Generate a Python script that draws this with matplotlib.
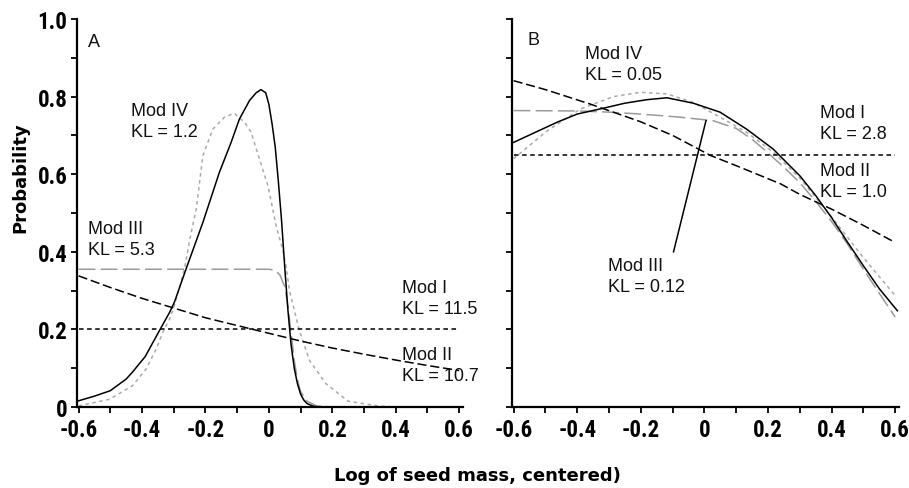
import numpy as np
import matplotlib.pyplot as plt
from matplotlib.ticker import MultipleLocator

# panel A (left)
a_obs_x = [-0.6, -0.55, -0.5, -0.45, -0.43, -0.39, -0.345, -0.313, -0.298, -0.261,
           -0.208, -0.156, -0.12, -0.093, -0.061, -0.04, -0.025, -0.01, 0.0, 0.01,
           0.02, 0.03, 0.04, 0.05, 0.06, 0.07, 0.08, 0.09, 0.10, 0.11, 0.12, 0.14, 0.16]
a_obs_y = [0.016, 0.028, 0.042, 0.072, 0.09, 0.13, 0.197, 0.244, 0.27, 0.356,
           0.476, 0.605, 0.68, 0.742, 0.79, 0.81, 0.818, 0.81, 0.78, 0.73,
           0.67, 0.58, 0.48, 0.36, 0.25, 0.16, 0.10, 0.06, 0.033, 0.018, 0.009, 0.002, 0.0]

a_mod1_x = [-0.6, 0.6]
a_mod1_y = [0.2, 0.2]

a_mod2_x = [-0.6, -0.5, -0.4, -0.3, -0.2, -0.1, 0.0, 0.1, 0.2, 0.3, 0.4, 0.5, 0.6]
a_mod2_y = [0.338, 0.308, 0.28, 0.255, 0.23, 0.21, 0.19, 0.17, 0.152, 0.136, 0.121, 0.107, 0.094]

a_mod3_x = [-0.6, 0.0, 0.02, 0.035, 0.05, 0.06, 0.07, 0.08, 0.09, 0.10, 0.12, 0.15, 0.2]
a_mod3_y = [0.355, 0.355, 0.352, 0.34, 0.31, 0.26, 0.19, 0.12, 0.07, 0.04, 0.015, 0.003, 0.0]

a_mod4_x = [-0.6, -0.502, -0.43, -0.387, -0.355, -0.334, -0.313, -0.298, -0.266, -0.25,
            -0.229, -0.208, -0.177, -0.14, -0.109, -0.077, -0.056, -0.03, -0.003, 0.023,
            0.043, 0.054, 0.065, 0.095, 0.128, 0.18, 0.25, 0.35, 0.4]
a_mod4_y = [0.003, 0.02, 0.055, 0.098, 0.15, 0.193, 0.227, 0.261, 0.356, 0.43,
            0.51, 0.648, 0.716, 0.747, 0.757, 0.734, 0.708, 0.64, 0.57, 0.467,
            0.407, 0.364, 0.30, 0.20, 0.12, 0.06, 0.015, 0.002, 0.0]

# panel B (right)
b_obs_x = [-0.6, -0.463, -0.4, -0.318, -0.25, -0.181, -0.118, -0.035, 0.049, 0.133,
           0.216, 0.3, 0.35, 0.4, 0.45, 0.5, 0.55, 0.607]
b_obs_y = [0.682, 0.734, 0.755, 0.77, 0.783, 0.792, 0.797, 0.783, 0.76, 0.716,
           0.665, 0.596, 0.545, 0.488, 0.425, 0.364, 0.305, 0.248]

b_mod1_x = [-0.6, 0.6]
b_mod1_y = [0.65, 0.65]

b_mod2_x = [-0.6, -0.5, -0.36, -0.2, -0.1, 0.02, 0.1, 0.24, 0.3, 0.4, 0.5, 0.6]
b_mod2_y = [0.841, 0.818, 0.781, 0.735, 0.70, 0.648, 0.622, 0.575, 0.548, 0.51, 0.468, 0.424]

b_mod3_x = [-0.6, -0.4, -0.3, -0.2, -0.077, 0.027, 0.1, 0.15, 0.2, 0.25, 0.3, 0.35,
            0.4, 0.45, 0.5, 0.55, 0.6]
b_mod3_y = [0.764, 0.763, 0.76, 0.755, 0.747, 0.738, 0.718, 0.69, 0.655, 0.618, 0.578, 0.53,
            0.478, 0.42, 0.355, 0.293, 0.232]

b_mod4_x = [-0.6, -0.494, -0.39, -0.286, -0.202, -0.118, -0.035, 0.049, 0.133, 0.216,
            0.3, 0.4, 0.5, 0.6]
b_mod4_y = [0.64, 0.712, 0.768, 0.80, 0.811, 0.807, 0.785, 0.747, 0.708, 0.657,
            0.59, 0.49, 0.385, 0.287]

b_pointer_x = [0.005, -0.097]
b_pointer_y = [0.738, 0.40]

xticks = [-0.6, -0.4, -0.2, 0.0, 0.2, 0.4, 0.6]
xticklabels = ["-0.6", "-0.4", "-0.2", "0", "0.2", "0.4", "0.6"]
yticks = [0.0, 0.2, 0.4, 0.6, 0.8, 1.0]
yticklabels = ["0", "0.2", "0.4", "0.6", "0.8", "1.0"]

a_labels = [("A", -0.571, 0.965), ("Mod IV\nKL = 1.2", -0.435, 0.787),
            ("Mod III\nKL = 5.3", -0.571, 0.482), ("Mod I\nKL = 11.5", 0.421, 0.33),
            ("Mod II\nKL = 10.7", 0.421, 0.158)]
b_labels = [("B", -0.557, 0.968), ("Mod IV\nKL = 0.05", -0.374, 0.932),
            ("Mod I\nKL = 2.8", 0.362, 0.781), ("Mod II\nKL = 1.0", 0.362, 0.631),
            ("Mod III\nKL = 0.12", -0.304, 0.386)]

tick_font = dict(family=["Roboto Condensed", "Liberation Sans", "DejaVu Sans"],
                 weight="bold", size=16.5)
note_font = dict(family=["Liberation Sans", "DejaVu Sans"], size=13)

fig = plt.figure(figsize=(9.09, 4.89), dpi=100)
ax_a = fig.add_axes([77 / 909, 81 / 489, 386 / 909, 388 / 489])
ax_b = fig.add_axes([512 / 909, 81 / 489, 387 / 909, 388 / 489])


def draw_panel(ax, obs, mod1, mod2, mod3, mod4, labels, show_ylabels):
    ax.plot(*mod3, color="#9a9a9a", lw=1.1, dashes=(11, 3.5))
    ax.plot(*mod4, color="#aaaaaa", lw=1.1, dashes=(2.3, 2.3))
    ax.plot(*mod1, color="black", lw=1.1, dashes=(3, 2.3))
    ax.plot(*mod2, color="black", lw=1.1, dashes=(6, 2.5))
    ax.plot(*obs, color="black", lw=1.1)

    ax.set_xlim(-0.605, 0.612)
    ax.set_ylim(0, 1.0)
    for side in ["top", "right"]:
        ax.spines[side].set_visible(False)
    for side in ["left", "bottom"]:
        ax.spines[side].set_linewidth(1.6)
    ax.set_xticks(xticks)
    ax.set_xticklabels(xticklabels, **tick_font)
    ax.set_yticks(yticks)
    if show_ylabels:
        ax.set_yticklabels(yticklabels, **tick_font)
    else:
        ax.set_yticklabels([])
    ax.xaxis.set_minor_locator(MultipleLocator(0.1))
    ax.yaxis.set_minor_locator(MultipleLocator(0.1))
    ax.tick_params(which="both", direction="out", length=4, width=1.3, color="black")
    ax.tick_params(axis="x", which="major", pad=4)
    ax.tick_params(axis="y", which="major", pad=3)

    for text, x, y in labels:
        ax.text(x, y, text, va="top", ha="left", linespacing=1.3, color="#111111", **note_font)


draw_panel(ax_a, (a_obs_x, a_obs_y), (a_mod1_x, a_mod1_y), (a_mod2_x, a_mod2_y),
           (a_mod3_x, a_mod3_y), (a_mod4_x, a_mod4_y), a_labels, True)
draw_panel(ax_b, (b_obs_x, b_obs_y), (b_mod1_x, b_mod1_y), (b_mod2_x, b_mod2_y),
           (b_mod3_x, b_mod3_y), (b_mod4_x, b_mod4_y), b_labels, False)
ax_b.plot(b_pointer_x, b_pointer_y, color="black", lw=1.1)

fig.text(20 / 909, 1 - 178 / 489, "Probability", rotation=90, ha="center", va="center",
         fontsize=13, fontweight="bold", family="DejaVu Sans")
fig.text(477 / 909, 1 - 476 / 489, "Log of seed mass, centered)", ha="center", va="center",
         fontsize=13, fontweight="bold", family="DejaVu Sans")

fig.savefig("out.png", dpi=100)
